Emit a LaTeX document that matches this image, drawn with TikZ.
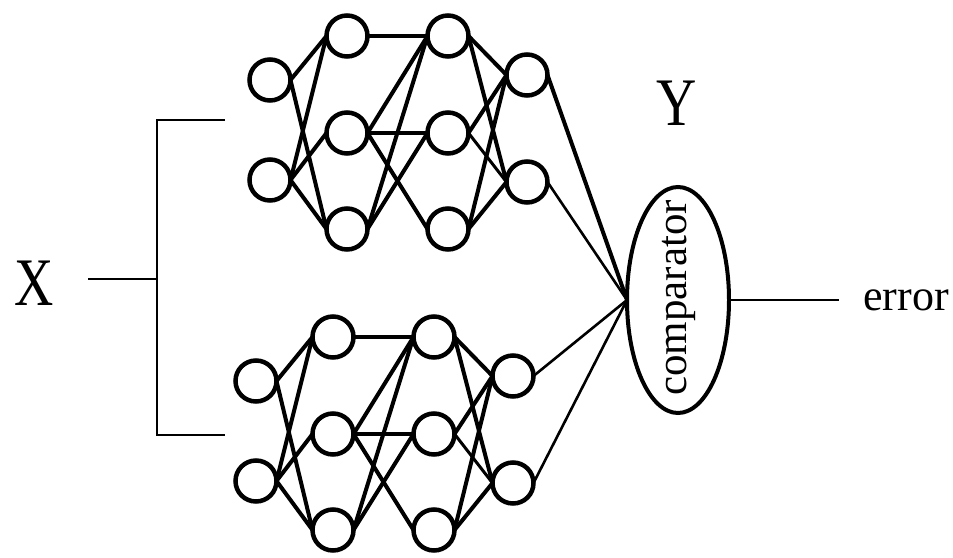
\documentclass[tikz,border=0pt]{standalone}
\usepackage{fontspec}
\setmainfont{Liberation Serif}
\usepackage{graphicx}
\usetikzlibrary{shapes.geometric}
\begin{document}
\begin{tikzpicture}[x=1pt,y=-1pt,
  neuron/.style={circle,draw,line width=4.5pt,minimum size=41pt,inner sep=0pt,outer sep=0pt},
  wire/.style={line width=4pt},
  thinwire/.style={line width=2.6pt},
  bracketline/.style={line width=2pt},
  biglabel/.style={font=\fontsize{68}{70}\selectfont,inner sep=0pt},
  smalllabel/.style={font=\fontsize{44}{46}\selectfont,inner sep=0pt}]
\useasboundingbox (0,0) rectangle (953,557);

% two identical networks, the second one shifted down
\foreach \n/\dx/\dy in {a/0/0, b/-14/301}{
  \begin{scope}[shift={(\dx,\dy)}]
    \node[neuron] (\n-i1) at (270,80) {};
    \node[neuron] (\n-i2) at (270,180) {};
    \node[neuron] (\n-p1) at (347,36) {};
    \node[neuron] (\n-p2) at (347,133) {};
    \node[neuron] (\n-p3) at (347,229) {};
    \node[neuron] (\n-q1) at (448,36) {};
    \node[neuron] (\n-q2) at (448,133) {};
    \node[neuron] (\n-q3) at (448,229) {};
    \node[neuron] (\n-o1) at (527,75) {};
    \node[neuron] (\n-o2) at (527,182) {};
  \end{scope}
  \foreach \s/\t in {i1/p1, i1/p3, i2/p1, i2/p2, i2/p3,
                     p1/q1, p2/q1, p2/q2, p2/q3, p3/q1, p3/q2,
                     q1/o1, q1/o2, q2/o1, q3/o1, q3/o2}
    \draw[wire] (\n-\s.east) -- (\n-\t.west);
  \draw[line width=3pt] (\n-q2.east) -- (\n-o2.west);
}

% comparator: ellipse outline with its rotated caption
\node[draw,ellipse,line width=4pt,minimum width=102pt,minimum height=226pt,
      inner sep=0pt,outer sep=0pt] (cmp) at (678,300) {};
\node[font=\fontsize{43}{45}\selectfont,inner sep=0pt] (cmptext) at (679,298)
      {\rotatebox{90}{comparator}};

\draw[wire] (a-o1.east) -- (cmp.west);
\draw[thinwire] (a-o2.east) -- (cmp.west);
\draw[thinwire] (b-o1.east) -- (cmp.west);
\draw[thinwire] (b-o2.east) -- (cmp.west);

% labels
\node[biglabel,anchor=base] (xlab) at (34,305) {\scalebox{0.8}[1]{X}};
\node[biglabel,anchor=base] (ylab) at (677,125) {\scalebox{0.82}[1]{Y}};
\node[smalllabel,anchor=base west] (err) at (863,310) {error};

% input fan-out bracket
\coordinate (xin) at (88,279);
\coordinate (split) at (157,279);
\coordinate (btop) at (225,120);
\coordinate (bbot) at (225,435);
\draw[bracketline] (xin) -- (split);
\draw[bracketline] (btop) -- (157,120) -- (157,435) -- (bbot);

% output line
\coordinate (errend) at (839,300);
\draw[thinwire] (cmp.east) -- (errend);
\end{tikzpicture}
\end{document}
